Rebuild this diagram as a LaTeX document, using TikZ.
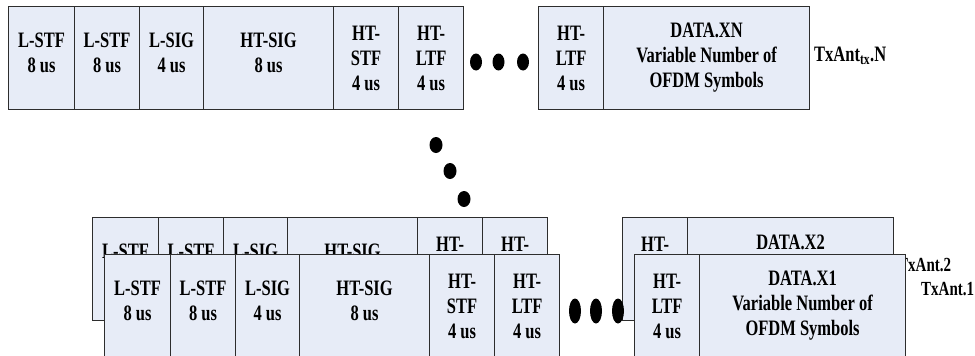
\documentclass[tikz,border=0pt]{standalone}
\usepackage{fontspec}
\setmainfont{Liberation Serif}[FakeStretch=0.75]
\definecolor{fieldfill}{RGB}{231,236,247}
\definecolor{fieldline}{RGB}{45,45,45}
\tikzset{
  field/.style={draw=fieldline, fill=fieldfill, line width=1.2pt, anchor=north west,
    minimum height=103pt, inner sep=0pt, align=center,
    font=\bfseries\fontsize{22}{25}\selectfont},
  twoline/.style={text depth=10pt},
  antname/.style={anchor=base west, inner sep=0pt,
    font=\bfseries\fontsize{22}{24}\selectfont},
}
% one frame: #1 prefix, #2 shift, #3 data field name
\newcommand\ppdurow[3]{%
  \begin{scope}[shift={#2}]
    \node[field,twoline,minimum width=66pt]  (#1-lstf1) at (0,0)   {L-STF\\8 us};
    \node[field,twoline,minimum width=65pt]  (#1-lstf2) at (66,0)  {L-STF\\8 us};
    \node[field,twoline,minimum width=64pt]  (#1-lsig)  at (131,0) {L-SIG\\4 us};
    \node[field,twoline,minimum width=130pt] (#1-htsig) at (195,0) {HT-SIG\\8 us};
    \node[field,minimum width=65pt]  (#1-htstf) at (325,0) {HT-\\STF\\4 us};
    \node[field,minimum width=65pt]  (#1-htltf) at (390,0) {HT-\\LTF\\4 us};
    \node[field,minimum width=65pt]  (#1-ltfn)  at (530,0) {HT-\\LTF\\4 us};
    \node[field,minimum width=206pt] (#1-data)  at (595,0) {#3\\Variable Number of\\OFDM Symbols};
  \end{scope}}
\begin{document}
\begin{tikzpicture}[x=1pt,y=-1pt]
\useasboundingbox (0,0) rectangle (975,356);
% antenna N
\ppdurow{N}{(8,6)}{DATA.XN}
\fill (476,62) ellipse [x radius=6pt, y radius=8.5pt];
\fill (498.5,62) ellipse [x radius=6pt, y radius=8.5pt];
\fill (523,62) ellipse [x radius=6pt, y radius=8.5pt];
\node[antname] (antN) at (814,61) {TxAnt\textsubscript{tx}.N};
% dots down to antenna 2
\fill (436,145) ellipse [x radius=6.5pt, y radius=8pt];
\fill (450,171) ellipse [x radius=6.5pt, y radius=8pt];
\fill (464,199) ellipse [x radius=6.5pt, y radius=8pt];
% antenna 2, behind
\ppdurow{X2}{(92,217)}{DATA.X2}
\node[antname, font=\bfseries\fontsize{20}{22}\selectfont] (ant2) at (898,271) {TxAnt.2};
% antenna 1, front
\ppdurow{X1}{(104,254)}{DATA.X1}
\fill (575,311) ellipse [x radius=6pt, y radius=12.5pt];
\fill (596,311) ellipse [x radius=6pt, y radius=12.5pt];
\fill (618,311) ellipse [x radius=6pt, y radius=12.5pt];
\node[antname, font=\bfseries\fontsize{20}{22}\selectfont] (ant1) at (921,295) {TxAnt.1};
\end{tikzpicture}
\end{document}
